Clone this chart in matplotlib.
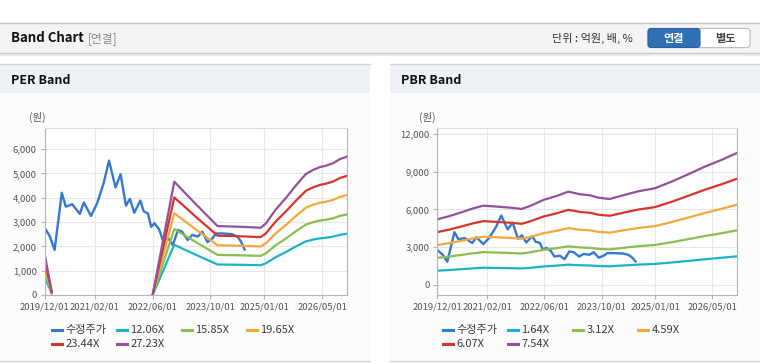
import matplotlib.pyplot as plt
import numpy as np
from matplotlib.patches import Rectangle, FancyBboxPatch
from matplotlib.lines import Line2D

plt.rcParams['font.family'] = ['Noto Sans CJK KR', 'DejaVu Sans']

# x axis = months since 2019/12/01
tick_months = [0, 14, 30, 46, 61, 77]
tick_labels = ['2019/12/01', '2021/02/01', '2022/06/01', '2023/10/01', '2025/01/01', '2026/05/01']

# adjusted share price (수정주가)
price_months = [0, 1.5, 2.8, 4.8, 5.9, 7.7, 9.8, 10.9, 12.9, 14.6, 16.4, 17.9, 19.7, 21.1,
                22.6, 23.7, 24.9, 26.6, 27.5, 28.7, 29.6, 30.5, 31.8, 32.8, 34.3, 35.6,
                37.0, 38.2, 39.7, 41.0, 42.5, 43.8, 45.2, 46.6, 47.6, 49.5, 52.0, 53.5,
                54.5, 55.5]
price = [2780, 2400, 1850, 4200, 3630, 3730, 3330, 3800, 3250, 3770, 4590, 5520, 4420, 4960,
         3670, 3950, 3380, 3880, 3440, 3350, 2800, 2950, 2700, 2260, 2330, 2050,
         2670, 2600, 2260, 2470, 2400, 2600, 2170, 2330, 2530, 2530, 2500, 2400,
         2200, 1870]

# PER band: EPS base (원) and multiples
eps_months = [0, 2, 2.5, 30, 36, 42, 48, 54, 60, 61.4, 64.1, 66.9, 69.7, 72.5, 74.6, 76.4,
              78, 80.1, 81.9, 84]
eps = [63, 5, np.nan, 0, 171, 137, 104, 103, 101.5, 108, 128.6, 146, 165, 182.6, 189, 193,
       195, 199, 205, 209]
per_mult = [12.06, 15.85, 19.65, 23.44, 27.23]

# PBR band: BPS base (원) and multiples
bps_months = [0, 3.5, 7.3, 10.1, 12.9, 16.6, 20.4, 23.6, 26, 29.7, 33.4, 36.7, 40, 42.8, 45.1,
              48.3, 51.6, 56.2, 60.9, 65.6, 70.2, 74.9, 79.5, 84]
bps = [692, 727, 773, 808, 836, 826, 815, 801, 833, 896, 938, 984, 956, 945, 920,
       906, 941, 987, 1019, 1089, 1166, 1247, 1317, 1393]
pbr_mult = [1.64, 3.12, 4.59, 6.07, 7.54]

price_color = '#3478d0'
band_colors = ['#1db3c6', '#8cbd50', '#f5a83a', '#d6352c', '#93519c']

fig = plt.figure(figsize=(7.6, 3.64), dpi=100)
fig.patch.set_facecolor('white')

# page chrome drawn in pixel coords
bg = fig.add_axes([0, 0, 1, 1])
bg.set_xlim(0, 760)
bg.set_ylim(364, 0)
bg.axis('off')

bg.add_patch(Rectangle((0, 22.5), 760, 30, fc='#f4f4f4', ec='none'))
bg.plot([0, 760], [22.5, 22.5], color='#c4c4c4', lw=1)
bg.plot([0, 760], [52.5, 52.5], color='#c6c6c6', lw=1)
bg.plot([0, 760], [53.6, 53.6], color='#e2e2e2', lw=1)
bg.plot([0, 760], [54.6, 54.6], color='#f0f0f0', lw=1)
bg.text(11, 38.5, 'Band Chart', fontsize=9.5, fontweight='bold', color='#111111', va='center')
bg.text(88, 38.5, '[연결]', fontsize=8.5, color='#8a8a8a', va='center')
bg.text(552, 38.5, '단위 : 억원, 배, %', fontsize=8, color='#333333', va='center')
bg.add_patch(FancyBboxPatch((648, 28.5), 102, 19, boxstyle='round,pad=0,rounding_size=3',
                            fc='white', ec='#bcbcbc', lw=0.8))
bg.add_patch(FancyBboxPatch((648, 28.5), 52, 19, boxstyle='round,pad=0,rounding_size=3',
                            fc='#3070b4', ec='#2a62a0', lw=0.8))
bg.text(674, 38.5, '연결', fontsize=8, fontweight='bold', color='white', ha='center', va='center')
bg.text(725, 38.5, '별도', fontsize=8, fontweight='bold', color='#444444', ha='center', va='center')

for x0, x1, title in [(0, 370, 'PER Band'), (390, 760, 'PBR Band')]:
    bg.add_patch(Rectangle((x0, 64), x1 - x0, 29, fc='#eef1f6', ec='none'))
    bg.add_patch(Rectangle((x0, 93), x1 - x0, 268, fc='#fcfcfc', ec='none'))
    bg.plot([x0, x1], [64, 64], color='#d4d4d4', lw=1)
    bg.plot([x0, x1], [361, 361], color='#d4d4d4', lw=1)
    bg.text(x0 + 11, 80.5, title, fontsize=9, fontweight='bold', color='#111111', va='center')
    bg.text(x0 + 29, 117, '(원)', fontsize=7.5, color='#555555', va='center')


def style_axes(ax, ylim, yticks):
    ax.set_facecolor('white')
    ax.set_xlim(0, 84)
    ax.set_ylim(*ylim)
    ax.set_xticks(tick_months)
    ax.set_xticklabels(tick_labels)
    ax.set_yticks(yticks)
    ax.set_yticklabels([f'{v:,}' for v in yticks])
    ax.grid(True, color='#e6e6e6', lw=0.8)
    ax.set_axisbelow(True)
    for s in ax.spines.values():
        s.set_color('#b4b4b4')
        s.set_linewidth(0.8)
    ax.spines['top'].set_color('#dcdcdc')
    ax.tick_params(labelsize=6.8, colors='#b4b4b4', labelcolor='#555555', length=3, width=0.8, pad=2.5)


def legend(x0, labels):
    cols = [price_color] + band_colors
    for i, (lab, c) in enumerate(zip(labels, cols)):
        x = x0 + 65 * (i % 4)
        y = 330 + 14 * (i // 4)
        bg.add_line(Line2D([x, x + 9.5], [y, y], color=c, lw=2.2))
        bg.text(x + 13.5, y, lab, fontsize=8, color='#3a3a3a', va='center')


# PER chart
ax1 = fig.add_axes([44.5 / 760, 1 - 295 / 364, 302.8 / 760, 166.7 / 364])
ax1.plot(price_months, price, color=price_color, lw=1.7)
for m, c in zip(per_mult, band_colors):
    ax1.plot(eps_months, [e * m for e in eps], color=c, lw=1.6)
style_axes(ax1, (0, 6850), [0, 1000, 2000, 3000, 4000, 5000, 6000])
legend(52, ['수정주가'] + [f'{m:.2f}X' for m in per_mult])

# PBR chart
ax2 = fig.add_axes([437.3 / 760, 1 - 295 / 364, 300 / 760, 166.7 / 364])
ax2.plot(price_months, price, color=price_color, lw=1.7)
for m, c in zip(pbr_mult, band_colors):
    ax2.plot(bps_months, [b * m for b in bps], color=c, lw=1.6)
style_axes(ax2, (-795, 12450), [0, 3000, 6000, 9000, 12000])
legend(443, ['수정주가'] + [f'{m:.2f}X' for m in pbr_mult])

fig.savefig('out.png', dpi=100)
